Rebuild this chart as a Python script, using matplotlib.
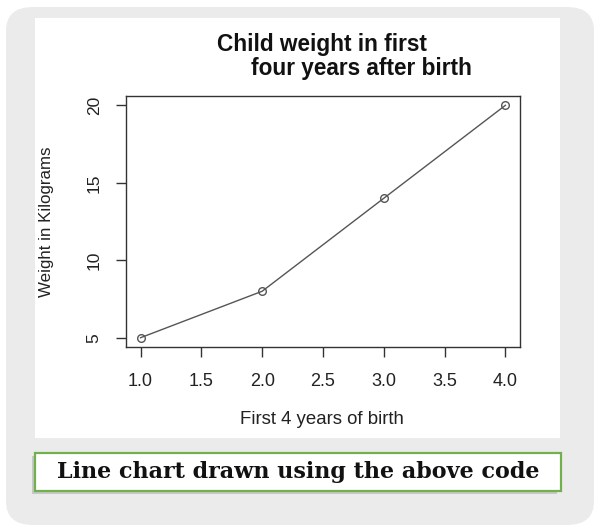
import matplotlib
matplotlib.use("Agg")
import matplotlib.pyplot as plt
from matplotlib.patches import FancyBboxPatch, Rectangle

# Data
years = [1, 2, 3, 4]
weights = [5, 8, 14, 20]
xticks = [1.0, 1.5, 2.0, 2.5, 3.0, 3.5, 4.0]
yticks = [5, 10, 15, 20]
title_line1 = "Child weight in first"
title_line2 = "four years after birth"
xlabel = "First 4 years of birth"
ylabel = "Weight in Kilograms"
caption = "Line chart drawn using the above code"

W, H = 600, 531
fig = plt.figure(figsize=(W / 100, H / 100), dpi=100)
fig.patch.set_facecolor("white")

def fx(px):
    return px / W

def fy(py):
    return 1 - py / H

# outer rounded gray frame
frame = FancyBboxPatch((fx(6), fy(525)), fx(594) - fx(6), fy(7) - fy(525),
                       boxstyle="round,pad=0,rounding_size=0.045",
                       transform=fig.transFigure, facecolor="#ebebeb",
                       edgecolor="none", zorder=0)
fig.patches.append(frame)

# white panel
panel = Rectangle((fx(35), fy(438)), fx(560) - fx(35), fy(18) - fy(438),
                  transform=fig.transFigure, facecolor="white",
                  edgecolor="none", zorder=1)
fig.patches.append(panel)

# caption box shadow and box
shadow = Rectangle((fx(32), fy(494)), fx(560) - fx(35), fy(453) - fy(491),
                   transform=fig.transFigure, facecolor="#b8b8b8",
                   edgecolor="none", zorder=1, alpha=0.7)
fig.patches.append(shadow)
cap = Rectangle((fx(35), fy(491)), fx(561) - fx(35), fy(453) - fy(491),
                transform=fig.transFigure, facecolor="white",
                edgecolor="#72b04e", linewidth=1.6, zorder=2)
fig.patches.append(cap)
fig.text(fx(298), fy(472), caption, ha="center", va="center",
         fontsize=16, fontweight="bold", family="DejaVu Serif",
         color="#111111", zorder=3)

# axes
ax = fig.add_axes([fx(126), fy(347), fx(520) - fx(126), fy(96) - fy(347)])
ax.set_zorder(2)
ax.set_facecolor("white")
ax.plot(years, weights, color="#555555", linewidth=1.0, marker="o",
        markersize=5.5, markerfacecolor="none", markeredgecolor="#555555",
        markeredgewidth=1.0)
ax.set_xlim(0.88, 4.12)
ax.set_ylim(4.4, 20.6)
ax.set_xticks(xticks)
ax.set_xticklabels([f"{t:.1f}" for t in xticks])
ax.set_yticks(yticks)
ax.set_yticklabels([str(t) for t in yticks], rotation=90, va="center")
for s in ax.spines.values():
    s.set_color("#333333")
    s.set_linewidth(1.0)
ax.tick_params(direction="out", length=7.5, width=1.0, color="#333333",
               labelcolor="#222222")
ax.tick_params(axis="x", labelsize=13, pad=11)
ax.tick_params(axis="y", labelsize=12.5, pad=10)
for lab in ax.get_xticklabels() + ax.get_yticklabels():
    lab.set_family("Liberation Sans")

fig.text(fx(322), fy(420), xlabel, ha="center", va="center", fontsize=13.4,
         family="Liberation Sans", color="#222222")
fig.text(fx(47), fy(222), ylabel, ha="center", va="center", rotation=90,
         fontsize=12.2, family="Liberation Sans", color="#222222")

fig.text(fx(322), fy(45), title_line1, ha="center", va="center", fontsize=16.3,
         fontweight="bold", family="Liberation Sans", color="#111111")
fig.text(fx(361), fy(69), title_line2, ha="center", va="center", fontsize=16.3,
         fontweight="bold", family="Liberation Sans", color="#111111")

fig.savefig("out.png", dpi=100, facecolor="white")
